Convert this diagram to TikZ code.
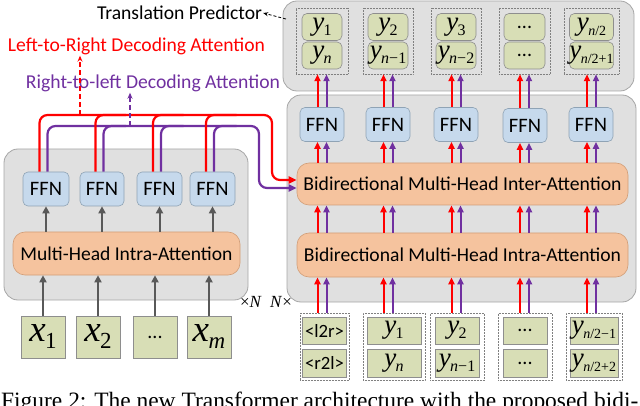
\documentclass[tikz,border=0pt]{standalone}
\usepackage{fontspec}
\setmainfont{Carlito}
\newfontfamily\tnr{Liberation Serif}
\usepackage{graphicx}
\usetikzlibrary{arrows.meta}
\definecolor{cgray}{HTML}{E0E0E0}
\definecolor{cgrayb}{HTML}{A6A6A6}
\definecolor{ffnf}{HTML}{C6D9EC}
\definecolor{ffnb}{HTML}{8FA3B5}
\definecolor{attf}{HTML}{F5C39E}
\definecolor{attb}{HTML}{D29E78}
\definecolor{tokf}{HTML}{D8DEB6}
\definecolor{tokb}{HTML}{8E8E8E}
\definecolor{rd}{HTML}{FF0000}
\definecolor{pu}{HTML}{7030A0}
\definecolor{ga}{HTML}{595959}
\newcommand{\fitw}[2]{\resizebox{#1pt}{!}{#2}}
\newcommand{\vv}[5]{{\fontsize{#1}{#1}\selectfont\tnr\itshape #3}\kern-0.5pt\raisebox{#5pt}{\fontsize{#2}{#2}\selectfont\tnr #4}}
\newcommand{\yv}[1]{\vv{27}{16}{y}{#1}{-5}}
\newcommand{\ys}[1]{\vv{27}{14}{y}{#1}{-5}}
\newcommand{\xv}[1]{\vv{37}{23}{x}{#1}{-7}}
\begin{document}
\begin{tikzpicture}[x=1pt,y=-1pt,
 container/.style={draw=cgrayb, fill=cgray, line width=0.8pt, rounded corners=14pt, inner sep=0},
 ffn/.style={draw=ffnb, fill=ffnf, line width=0.6pt, rounded corners=5pt, minimum width=44pt, minimum height=34pt, inner sep=0, font=\fontsize{20.5}{20.5}\selectfont},
 att/.style={draw=attb, fill=attf, line width=0.6pt, rounded corners=12pt, inner sep=0},
 tok/.style={draw=tokb, fill=tokf, line width=0.6pt, inner sep=0},
 rtok/.style={tok, rounded corners=5pt},
 dbox/.style={draw=gray, densely dotted, line width=0.5pt, inner sep=0},
 garr/.style={draw=ga, line width=2pt, -{Triangle[length=7pt,width=7pt]}},
 rarr/.style={draw=rd, line width=2pt, -{Triangle[length=7pt,width=6pt]}},
 parr/.style={draw=pu, line width=2pt, -{Triangle[length=7pt,width=6pt]}},
 rline/.style={draw=rd, line width=2.2pt, rounded corners=8pt},
 pline/.style={draw=pu, line width=2.2pt, rounded corners=8pt},
 lbl/.style={inner sep=1pt},
 dots/.style={font=\fontsize{20}{20}\selectfont},
]
\useasboundingbox (0,0) rectangle (640,406);
\clip (0,0) rectangle (640,406);

% ---------- top: translation predictor ----------
\node[container, minimum width=351pt, minimum height=90pt] (top) at (458.5,46) {};
\node[dbox, minimum width=52pt, minimum height=66pt] (t1) at (322,41) {};
\node[dbox, minimum width=50pt, minimum height=66pt] (t2) at (388,41) {};
\node[dbox, minimum width=50pt, minimum height=66pt] (t3) at (456,41) {};
\node[dbox, minimum width=51pt, minimum height=66pt] (t4) at (524.5,41) {};
\node[dbox, minimum width=55pt, minimum height=66pt] (t5) at (591.5,41) {};
\node[rtok, minimum width=40pt, minimum height=27pt] (t1a) at (322,27) {\yv{1}};
\node[rtok, minimum width=40pt, minimum height=27pt] (t1b) at (322,55.5) {\yv{\textit{n}}};
\node[rtok, minimum width=40pt, minimum height=27pt] (t2a) at (388,27) {\yv{2}};
\node[rtok, minimum width=40pt, minimum height=27pt] (t2b) at (388,55.5) {\yv{\textit{n}−1}};
\node[rtok, minimum width=40pt, minimum height=27pt] (t3a) at (456,27) {\yv{3}};
\node[rtok, minimum width=40pt, minimum height=27pt] (t3b) at (456,55.5) {\yv{\textit{n}−2}};
\node[rtok, minimum width=41pt, minimum height=27pt, dots] (t4a) at (524.5,27) {...};
\node[rtok, minimum width=41pt, minimum height=27pt, dots] (t4b) at (524.5,55.5) {...};
\node[rtok, minimum width=44pt, minimum height=27pt] (t5a) at (591.5,27) {\ys{\textit{n}/2}};
\node[rtok, minimum width=44pt, minimum height=27pt] (t5b) at (591.5,55.5) {\ys{\textit{n}/2+1}};

\node[lbl] (tp) at (179.5,13) {\fitw{165}{Translation Predictor}};
\draw[densely dashed, line width=0.8pt, -{Stealth[length=5pt,width=4pt]}] (286,19) -- (tp.east);

% ---------- decoder ----------
\node[container, minimum width=349pt, minimum height=207pt] (dec) at (461.5,198.5) {};
\node[ffn] (dF1) at (322,124.5) {FFN};
\node[ffn] (dF2) at (388,124.5) {FFN};
\node[ffn] (dF3) at (456,124.5) {FFN};
\node[ffn] (dF4) at (525,125.5) {FFN};
\node[ffn] (dF5) at (591,124.5) {FFN};
\node[att, minimum width=331pt, minimum height=42pt] (dInter) at (462.5,184) {\fitw{318}{Bidirectional Multi-Head Inter-Attention}};
\node[att, minimum width=331pt, minimum height=44pt] (dIntra) at (462.5,255) {\fitw{317}{Bidirectional Multi-Head Intra-Attention}};

% ---------- decoder inputs ----------
\node[dbox, minimum width=49pt, minimum height=67pt] (b1) at (324.5,346.5) {};
\node[dbox, minimum width=62pt, minimum height=67pt] (b2) at (394,346.5) {};
\node[dbox, minimum width=54pt, minimum height=67pt] (b3) at (457,346.5) {};
\node[dbox, minimum width=54pt, minimum height=67pt] (b4) at (525,346.5) {};
\node[dbox, minimum width=56pt, minimum height=67pt] (b5) at (594,346.5) {};
\node[tok, minimum width=44pt, minimum height=27pt] (b1a) at (324.5,330.5) {\fitw{39}{<l2r>}};
\node[tok, minimum width=44pt, minimum height=28pt] (b1b) at (324.5,363) {\fitw{39}{<r2l>}};
\node[tok, minimum width=54pt, minimum height=27pt] (b2a) at (394,330.5) {\yv{1}};
\node[tok, minimum width=54pt, minimum height=28pt] (b2b) at (394,363) {\yv{\textit{n}}};
\node[tok, minimum width=44pt, minimum height=27pt] (b3a) at (457,330.5) {\yv{2}};
\node[tok, minimum width=44pt, minimum height=28pt] (b3b) at (457,363) {\yv{\textit{n}−1}};
\node[tok, minimum width=44pt, minimum height=27pt, dots] (b4a) at (525,330.5) {...};
\node[tok, minimum width=44pt, minimum height=28pt, dots] (b4b) at (525,363) {...};
\node[tok, minimum width=48pt, minimum height=27pt] (b5a) at (594,330.5) {\ys{\textit{n}/2−1}};
\node[tok, minimum width=48pt, minimum height=28pt] (b5b) at (594,363) {\ys{\textit{n}/2+2}};

% decoder arrows
\foreach \i/\c in {1/322,2/388,3/456,4/524.5,5/591.5}{
  \coordinate (k\i) at (\c,0);
  \draw[rarr] ([xshift=-4.5pt]k\i |- b\i.north) -- ([xshift=-4.5pt]k\i |- dIntra.south);
  \draw[parr] ([xshift=4.5pt]k\i |- b\i.north) -- ([xshift=4.5pt]k\i |- dIntra.south);
  \draw[rarr] ([xshift=-4.5pt]k\i |- dIntra.north) -- ([xshift=-4.5pt]k\i |- dInter.south);
  \draw[parr] ([xshift=4.5pt]k\i |- dIntra.north) -- ([xshift=4.5pt]k\i |- dInter.south);
  \draw[rarr] ([xshift=-4.5pt]k\i |- dInter.north) -- ([xshift=-4.5pt]k\i |- dF\i.south);
  \draw[parr] ([xshift=4.5pt]k\i |- dInter.north) -- ([xshift=4.5pt]k\i |- dF\i.south);
  \draw[rarr] ([xshift=-4.5pt]k\i |- dF\i.north) -- ([xshift=-4.5pt]k\i |- t\i.south);
  \draw[parr] ([xshift=4.5pt]k\i |- dF\i.north) -- ([xshift=4.5pt]k\i |- t\i.south);
}

% ---------- encoder ----------
\node[container, minimum width=244pt, minimum height=151pt] (enc) at (126,224.5) {};
\node[ffn, minimum width=46pt] (eF1) at (46,189) {FFN};
\node[ffn] (eF2) at (102,189) {FFN};
\node[ffn, minimum width=45pt] (eF3) at (159.5,189) {FFN};
\node[ffn, minimum width=45pt] (eF4) at (212.5,189) {FFN};
\node[att, minimum width=227pt, minimum height=43pt] (eA) at (126.5,253.5) {\fitw{212}{Multi-Head Intra-Attention}};
\node[tok, minimum width=44pt, minimum height=42pt] (x1) at (43,337) {\xv{1}};
\node[tok, minimum width=44pt, minimum height=42pt] (x2) at (98,337) {\xv{2}};
\node[tok, minimum width=44pt, minimum height=42pt, dots] (x3) at (155,337) {...};
\node[tok, minimum width=44pt, minimum height=42pt] (x4) at (209,337) {\xv{\textit{m}}};
\foreach \i in {1,2,3,4}{
  \draw[garr] (x\i.north) -- (x\i.north |- eA.south);
  \draw[garr] (eF\i.south |- eA.north) -- (eF\i.south);
}
\node[lbl, font=\fontsize{17}{17}\selectfont\tnr] (nl) at (251,302) {×\textit{N}};
\node[lbl, font=\fontsize{17}{17}\selectfont\tnr] (nr) at (281,302) {\textit{N}×};

% ---------- attention buses ----------
\coordinate (rbus) at (272,115);
\coordinate (pbus) at (259,126);
\foreach \i in {2,3,4}{
  \draw[pline] ([xshift=1.5pt]eF\i.north) |- ([xshift=24pt]eF\i.north |- pbus);
}
\draw[pline, -{Triangle[length=8pt,width=7pt]}] ([xshift=1.5pt]eF1.north) |- (pbus) |- ([yshift=-4pt]dInter.west);
\foreach \i in {2,3,4}{
  \draw[rline] ([xshift=-6.5pt]eF\i.north) |- ([xshift=24pt]eF\i.north |- rbus);
}
\draw[rline, -{Triangle[length=8pt,width=7pt]}] ([xshift=-6.5pt]eF1.north) |- (rbus) |- ([yshift=4pt]dInter.west);

\node[lbl, text=rd] (lr) at (136.5,46) {\fitw{257}{Left-to-Right Decoding Attention}};
\node[lbl, text=pu] (rl) at (153,83) {\fitw{254}{Right-to-left Decoding Attention}};
\coordinate (rd0) at (80,115);
\coordinate (pd0) at (130,126);
\draw[rd, line width=1.2pt, dash pattern=on 5pt off 3pt, -{Stealth[length=6pt,width=5pt]}] (rd0) -- (rd0 |- lr.south);
\draw[pu, line width=1.2pt, dash pattern=on 5pt off 3pt, -{Stealth[length=6pt,width=5pt]}] (pd0) -- (pd0 |- rl.south);

% ---------- caption (cut off at the bottom edge, as in the source) ----------
\node[anchor=base west, inner sep=0] (cap) at (1,408) {\fitw{637}{\tnr Figure 2: The new Transformer architecture with the proposed bidi-}};
\end{tikzpicture}
\end{document}
